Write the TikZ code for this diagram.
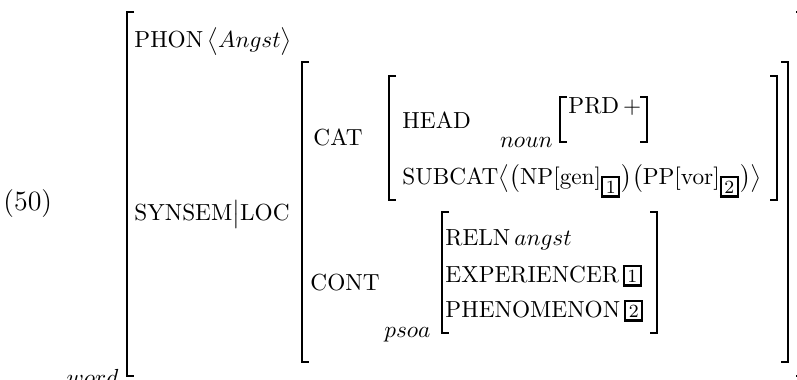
\documentclass[tikz,border=0pt]{standalone}
\usepackage{tikz}

% coindexing tags
\newcommand{\boxtag}[1]{{\fboxsep=1pt\fboxrule=1pt\fbox{\footnotesize #1}}}

\begin{document}
\begin{tikzpicture}[
    x=0.43pt, y=-0.43pt,
    feat/.style={anchor=base west, inner sep=0pt},
    sort/.style={anchor=base east, inner sep=0pt},
    brk/.style={line width=1pt}
]
\useasboundingbox (0,0) rectangle (797,379);

% brackets: left/right/top/bottom
\foreach \l/\r/\t/\b in {127/803/12/376, 302/788/62/362, 389/777/76/200,
                         560/647/97/142, 442/657/212/333} {
    \draw[brk] (\l+7,\t) -- (\l,\t) -- (\l,\b) -- (\l+7,\b);
    \draw[brk] (\r-7,\t) -- (\r,\t) -- (\r,\b) -- (\r-7,\b);
}

\node[feat, font=\large] (exnum) at (3,210) {(50)};
\node[sort] (word) at (119,385) {$word$};

\node[feat] (phon) at (134,47) {PHON\,$\big\langle Angst\big\rangle$};
\node[feat] (synsem) at (134,220) {SYNSEM$\big|$LOC};

\node[feat] (cat) at (313,145) {CAT};
\node[feat] (head) at (402,128) {HEAD};
\node[sort] (noun) at (553,147) {$noun$};
\node[feat] (prd) at (568,113) {PRD\,$+$};
\node[feat] (subcat) at (402,184) {SUBCAT$\big\langle\big($NP[gen]$_{\boxtag{1}}\big)\big($PP[vor]$_{\boxtag{2}}\big)\big\rangle$};

\node[feat] (cont) at (310,290) {CONT};
\node[sort] (psoa) at (431,337) {$psoa$};
\node[feat] (reln) at (445,245) {RELN\,$angst$};
\node[feat] (exper) at (445,282) {EXPERIENCER\,\boxtag{1}};
\node[feat] (phen) at (445,317) {PHENOMENON\,\boxtag{2}};

\end{tikzpicture}
\end{document}
